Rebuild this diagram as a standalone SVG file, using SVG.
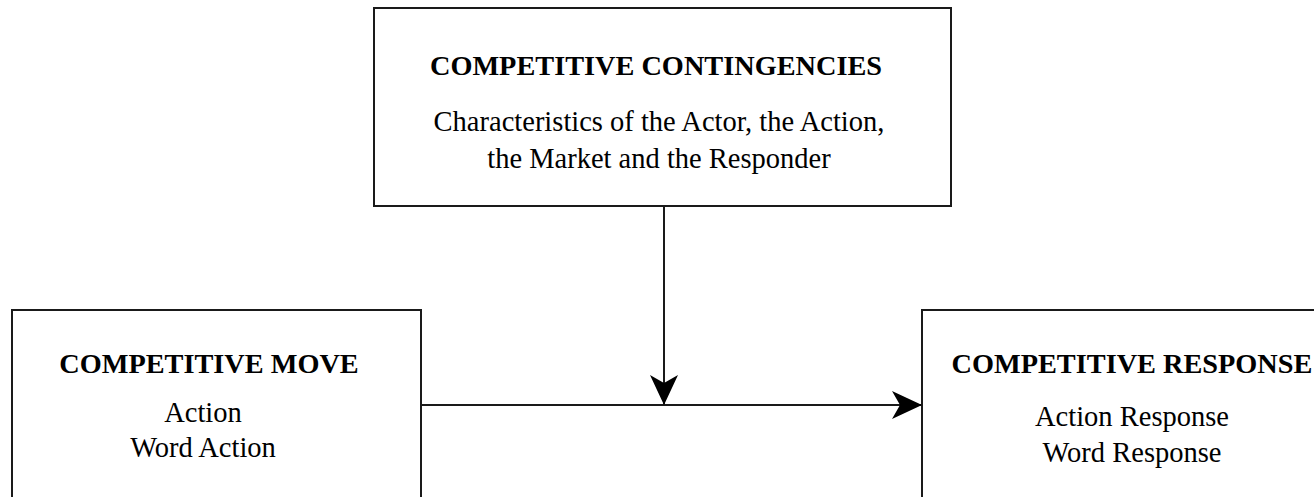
<svg xmlns="http://www.w3.org/2000/svg" width="1314" height="497" viewBox="0 0 1314 497">
  <style>
    .box { fill: #ffffff; stroke: #1a1a1a; stroke-width: 2; }
    .title { font-family: "Liberation Serif", "Times New Roman", serif; font-weight: bold; font-size: 28.3px; fill: #000; text-anchor: middle; }
    .body { font-family: "Liberation Serif", "Times New Roman", serif; font-size: 28.5px; fill: #000; text-anchor: middle; }
    .wire { fill: none; stroke: #1a1a1a; stroke-width: 2; }
  </style>
  <defs>
    <marker id="arrow" viewBox="0 0 30 28" refX="29" refY="14" markerWidth="30" markerHeight="28" markerUnits="userSpaceOnUse" orient="auto">
      <path d="M0,0 L30,14 L0,28 L8,14 Z" fill="#000"/>
    </marker>
  </defs>
  <rect width="1314" height="497" fill="#ffffff"/>

  <g id="contingencies">
    <rect class="box" x="374" y="8" width="577" height="198"/>
    <text class="title" x="656" y="75">COMPETITIVE CONTINGENCIES</text>
    <text class="body" x="659" y="131">Characteristics of the Actor, the Action,</text>
    <text class="body" x="659" y="168">the Market and the Responder</text>
  </g>

  <g id="move">
    <rect class="box" x="12" y="310" width="409" height="200"/>
    <text class="title" x="209" y="373">COMPETITIVE MOVE</text>
    <text class="body" x="203" y="422">Action</text>
    <text class="body" x="203" y="457">Word Action</text>
  </g>

  <g id="response">
    <rect class="box" x="922" y="310" width="420" height="200"/>
    <text class="title" x="1132" y="373">COMPETITIVE RESPONSE</text>
    <text class="body" x="1132" y="426">Action Response</text>
    <text class="body" x="1132" y="462">Word Response</text>
  </g>

  <g id="connectors">
    <line class="wire" x1="421" y1="405" x2="921" y2="405" marker-end="url(#arrow)"/>
    <line class="wire" x1="664" y1="206" x2="664" y2="404" marker-end="url(#arrow)"/>
  </g>
</svg>
